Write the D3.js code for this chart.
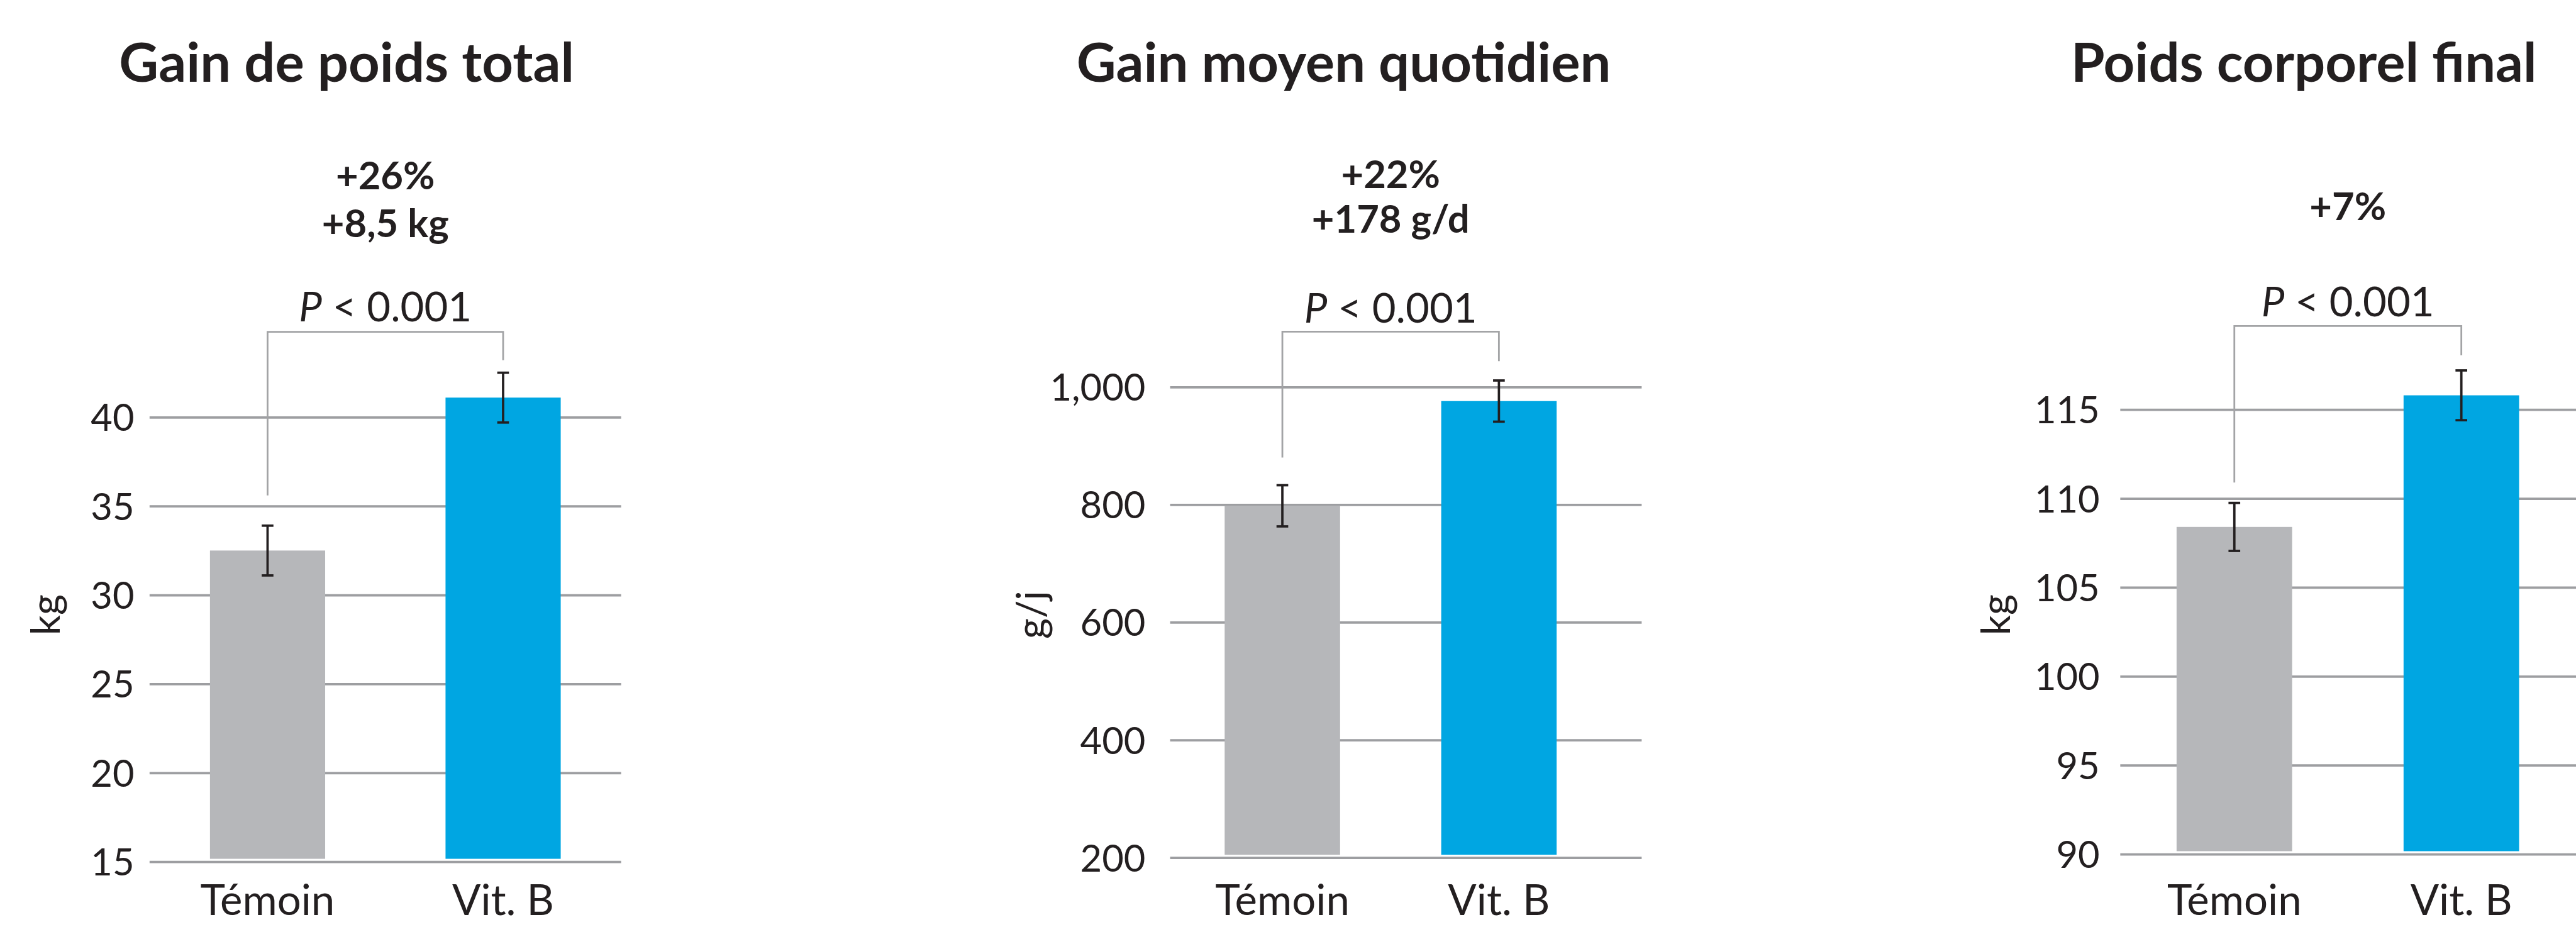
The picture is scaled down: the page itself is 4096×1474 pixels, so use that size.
<!DOCTYPE html>
<html>
<head>
<meta charset="utf-8">
<script src="https://cdn.jsdelivr.net/npm/d3@7"></script>
<style>
  html, body { margin: 0; padding: 0; background: #fff; }
  svg { display: block; }
  text { font-family: Lato, "Noto Sans", sans-serif; fill: #231f20; }
</style>
</head>
<body>
<div id="wrapper"></div>
<script>
// data
const groups = ["Témoin", "Vit. B"]
const titles = ["Gain de poids total", "Gain moyen quotidien", "Poids corporel final"]
const yLabels = ["kg", "g/j", "kg"]

const gainMeans = [32.5, 41.1]
const gainErrors = [1.4, 1.4]
const adgMeans = [798, 976]
const adgErrors = [35, 35]
const finalMeans = [108.4, 115.8]
const finalErrors = [1.35, 1.4]

const gainTicks = [15, 20, 25, 30, 35, 40]
const adgTicks = [200, 400, 600, 800, 1000]
const finalTicks = [90, 95, 100, 105, 110, 115]

const gainNotes = ["+26%", "+8,5 kg"]
const adgNotes = ["+22%", "+178 g/d"]
const finalNotes = ["+7%"]
const pText = " < 0.001"

// bracket: left end, top, right end (in data units)
const gainBracket = [35.6, 44.8, 43.2]
const adgBracket = [880, 1094, 1044]
const finalBracket = [110.9, 119.7, 118.05]

// layout is in the reference's pixel space, viewBox scales it to the window
const refWidth = 4392
const refHeight = 1580

const panels = [
    { means: gainMeans, errors: gainErrors, ticks: gainTicks, notes: gainNotes, bracket: gainBracket,
      grid: [255, 1059], bars: [358, 956], padInner: 0.511, yRange: [1469, 711],
      titleX: 591, yLabelX: 81, tickPad: 26, noteY: [323, 404], pY: 548 },
    { means: adgMeans, errors: adgErrors, ticks: adgTicks, notes: adgNotes, bracket: adgBracket,
      grid: [1995, 2799], bars: [2088, 2654], padInner: 0.467, yRange: [1462, 659.5],
      titleX: 2291, yLabelX: 1762, tickPad: 42, noteY: [320, 396], pY: 550 },
    { means: finalMeans, errors: finalErrors, ticks: finalTicks, notes: finalNotes, bracket: finalBracket,
      grid: [3615, 4419], bars: [3711, 4295], padInner: 0.491, yRange: [1456, 698],
      titleX: 3928, yLabelX: 3407, tickPad: 35, noteY: [375], pY: 539 },
]

const barColors = ["#b6b7ba", "#00a6e2"]

const wrapper = d3.select("#wrapper")
    .append("svg")
    .attr("width", 4096)
    .attr("height", 1474)
    .attr("viewBox", `0 0 ${refWidth} ${refHeight}`)

function drawPanel(p, i) {
    const g = wrapper.append("g")

    const yScale = d3.scaleLinear()
        .domain(d3.extent(p.ticks))
        .range(p.yRange)
    const xScale = d3.scaleBand()
        .domain(groups)
        .range(p.bars)
        .paddingInner(p.padInner)
        .paddingOuter(0)

    // gridlines
    const yAxisGenerator = d3.axisLeft()
        .scale(yScale)
        .tickValues(p.ticks)
        .tickFormat(d3.format(","))
        .tickSize(-(p.grid[1] - p.grid[0]))
        .tickPadding(p.tickPad)
    const yAxis = g.append("g")
        .attr("transform", `translate(${p.grid[0]},0)`)
        .call(yAxisGenerator)
    yAxis.select(".domain").remove()
    yAxis.selectAll(".tick line")
        .attr("stroke", "#9d9ea1")
        .attr("stroke-width", 4)
    yAxis.selectAll(".tick text")
        .attr("fill", "#231f20")
        .style("font-size", "64px")
        .attr("dy", "0.36em")

    // bars
    const base = yScale(p.ticks[0]) - 5
    g.selectAll("rect.bar")
        .data(p.means)
        .join("rect")
        .attr("class", "bar")
        .attr("x", (d, j) => xScale(groups[j]))
        .attr("width", xScale.bandwidth())
        .attr("y", d => yScale(d))
        .attr("height", d => base - yScale(d))
        .attr("fill", (d, j) => barColors[j])

    // error bars
    const cx = j => xScale(groups[j]) + xScale.bandwidth() / 2
    const errs = g.selectAll("g.err")
        .data(p.means)
        .join("g")
        .attr("class", "err")
        .attr("stroke", "#231f20")
        .attr("stroke-width", 4)
    errs.append("line")
        .attr("x1", (d, j) => cx(j)).attr("x2", (d, j) => cx(j))
        .attr("y1", (d, j) => yScale(d + p.errors[j]))
        .attr("y2", (d, j) => yScale(d - p.errors[j]))
    errs.append("line")
        .attr("x1", (d, j) => cx(j) - 10).attr("x2", (d, j) => cx(j) + 10)
        .attr("y1", (d, j) => yScale(d + p.errors[j]))
        .attr("y2", (d, j) => yScale(d + p.errors[j]))
    errs.append("line")
        .attr("x1", (d, j) => cx(j) - 10).attr("x2", (d, j) => cx(j) + 10)
        .attr("y1", (d, j) => yScale(d - p.errors[j]))
        .attr("y2", (d, j) => yScale(d - p.errors[j]))

    // significance bracket
    const [bl, bt, br] = p.bracket
    g.append("path")
        .attr("d", d3.line()([
            [cx(0), yScale(bl)],
            [cx(0), yScale(bt)],
            [cx(1), yScale(bt)],
            [cx(1), yScale(br)],
        ]))
        .attr("fill", "none")
        .attr("stroke", "#a3a4a6")
        .attr("stroke-width", 3)

    const midX = (cx(0) + cx(1)) / 2
    const pLabel = g.append("text")
        .attr("x", midX)
        .attr("y", p.pY)
        .attr("text-anchor", "middle")
        .style("font-size", "70px")
    pLabel.append("tspan").style("font-style", "italic").text("P")
    pLabel.append("tspan").text(pText)

    g.selectAll("text.note")
        .data(p.notes)
        .join("text")
        .attr("class", "note")
        .attr("x", midX)
        .attr("y", (d, j) => p.noteY[j])
        .attr("text-anchor", "middle")
        .style("font-size", "66px")
        .style("font-weight", "bold")
        .text(d => d)

    // title
    g.append("text")
        .attr("x", p.titleX)
        .attr("y", 139)
        .attr("text-anchor", "middle")
        .style("font-size", "93px")
        .style("font-weight", "bold")
        .text(titles[i])

    // y label
    g.append("text")
        .attr("transform", `translate(${p.yLabelX},1048) rotate(-90)`)
        .attr("text-anchor", "middle")
        .attr("dy", "0.3em")
        .style("font-size", "68px")
        .text(yLabels[i])

    // x labels
    g.selectAll("text.xlab")
        .data(groups)
        .join("text")
        .attr("class", "xlab")
        .attr("x", (d, j) => cx(j))
        .attr("y", 1560)
        .attr("text-anchor", "middle")
        .style("font-size", "72px")
        .text(d => d)
}

panels.forEach(drawPanel)
</script>
</body>
</html>
